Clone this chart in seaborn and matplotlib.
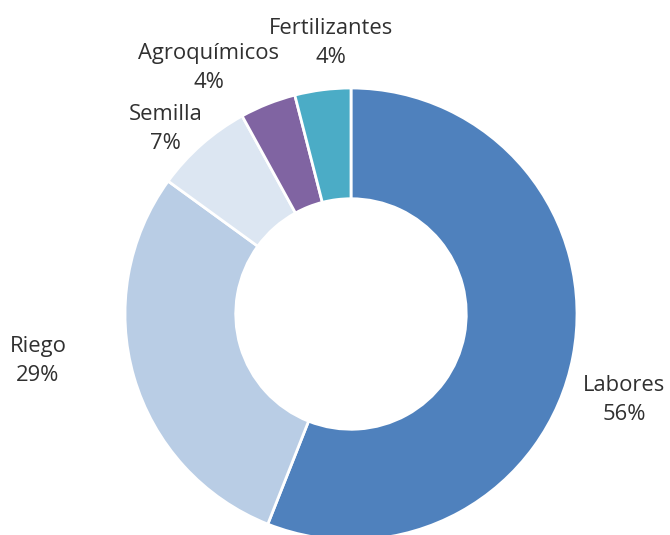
import matplotlib
matplotlib.use("Agg")
import matplotlib.pyplot as plt
import seaborn as sns

categories = ["Labores", "Riego", "Semilla", "Agroquímicos", "Fertilizantes"]
shares = [56, 29, 7, 4, 4]
colors = ["#4F81BD", "#B9CDE5", "#DCE6F2", "#8064A2", "#4BACC6"]

# where Excel put each label (data units, outer radius = 1)
label_pos = {
    "Labores": (1.21, -0.38),
    "Riego": (-1.385, -0.21),
    "Semilla": (-0.82, 0.82),
    "Agroquímicos": (-0.63, 1.09),
    "Fertilizantes": (-0.09, 1.20),
}

sns.set_theme(style="white")
plt.rcParams["font.family"] = ["Open Sans", "DejaVu Sans"]

fig = plt.figure(figsize=(6.7, 5.35), dpi=100)
ax = fig.add_axes([0, 0, 1, 1])

ax.pie(
    shares,
    colors=colors,
    startangle=90,
    counterclock=False,
    radius=1.0,
    wedgeprops=dict(width=0.49, edgecolor="white", linewidth=2),
)

for cat, val in zip(categories, shares):
    x, y = label_pos[cat]
    ax.text(x, y, f"{cat}\n{val}%", ha="center", va="center",
            fontsize=15.8, color="#303030", linespacing=1.5)

ax.set_xlim(-351 / 226, 319 / 226)
ax.set_ylim((314 - 535) / 226, 314 / 226)
ax.set_aspect("auto")
ax.axis("off")

fig.savefig("out.png", dpi=100)
